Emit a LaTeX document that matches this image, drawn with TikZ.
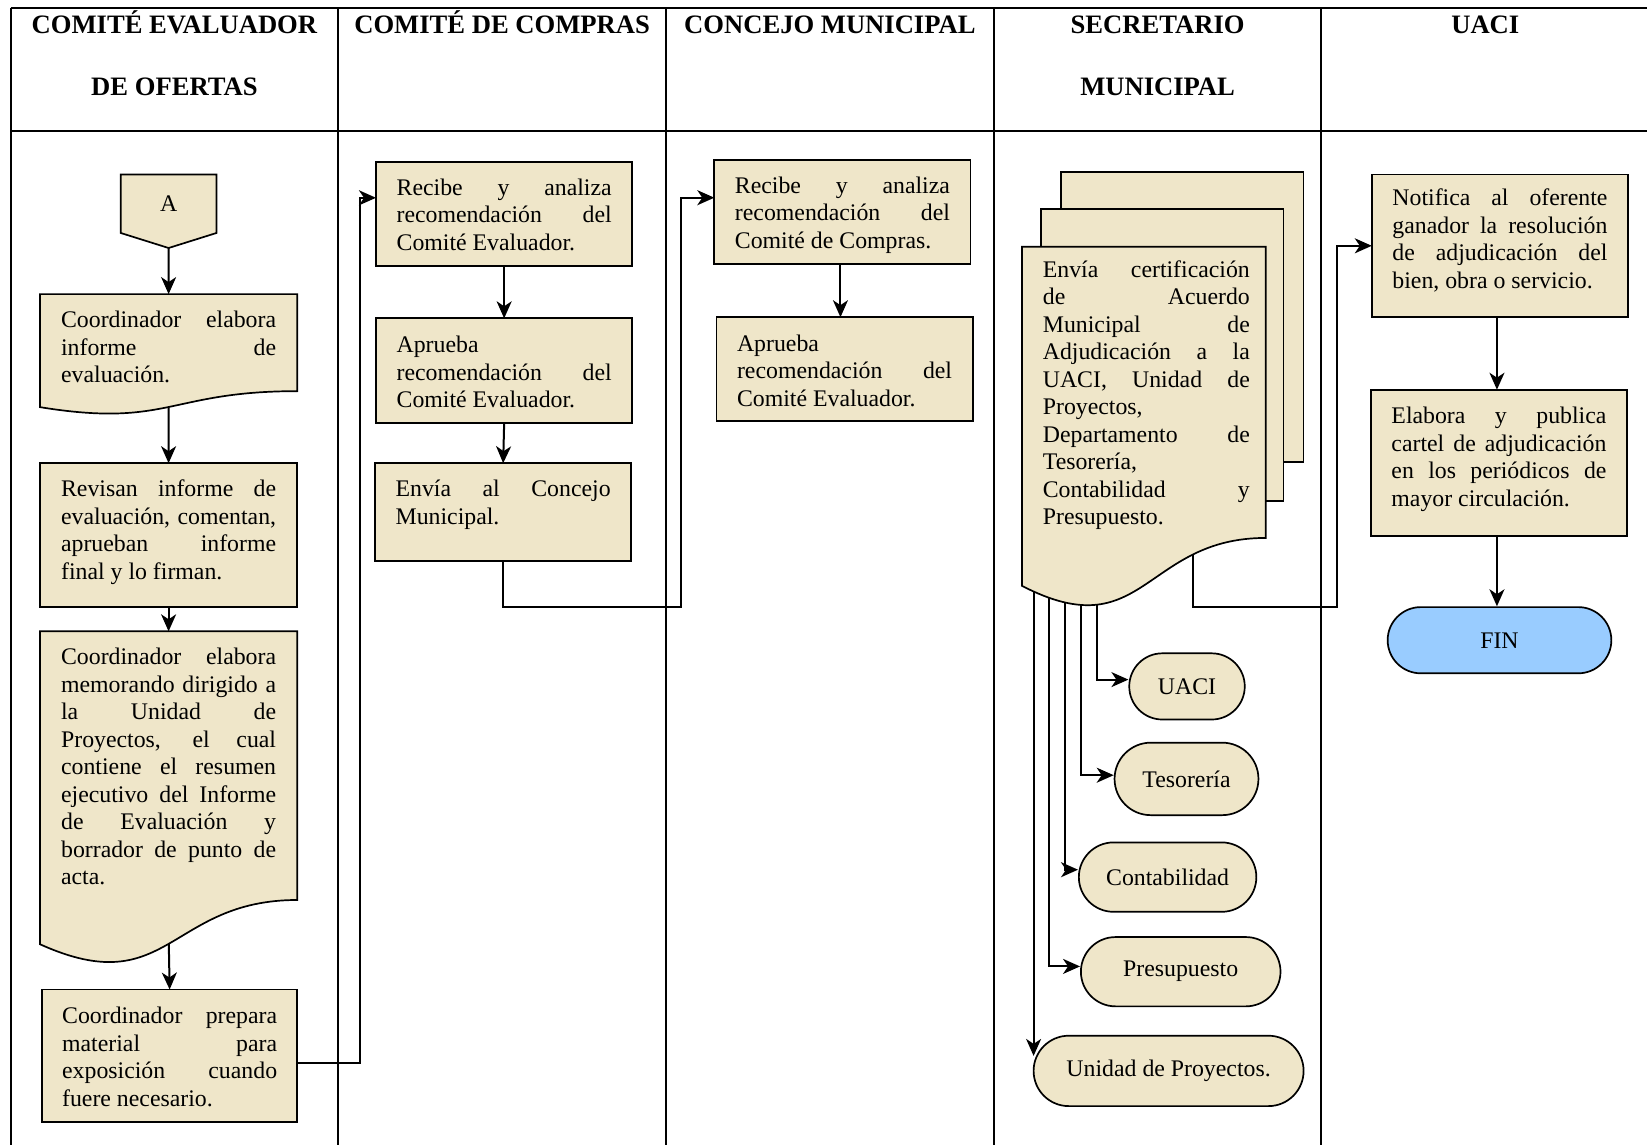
\documentclass[tikz,border=0pt]{standalone}
\usepackage{fontspec}
\setmainfont{Liberation Serif}
\usetikzlibrary{arrows.meta,shapes.misc,calc}

\definecolor{paper}{RGB}{239,230,201}
\definecolor{finblue}{RGB}{153,204,255}

\pgfdeclarelayer{lanes}
\pgfdeclarelayer{conn}
\pgfdeclarelayer{docs}
\pgfsetlayers{lanes,conn,docs,main}

\newcommand\bodyfont{\fontsize{23.8pt}{27.5pt}\selectfont}
\newcommand\headfont{\fontsize{26.6pt}{30pt}\selectfont\bfseries}
% one fully justified line
\newcommand\jl[1]{\makebox[\linewidth][s]{#1}\par}
% top-aligned text block: [width]{height}{top gap}{lines}
\newcommand\boxtext[4][215pt]{\parbox[c][#2][t]{#1}{\bodyfont\vspace*{#3}\strut#4}}
% rectangle step: name, x, top, width, height, top gap, text
\newcommand\procnode[7]{\node[proc, minimum width=#4pt] (#1) at (#2,#3) {\boxtext{#5pt}{#6pt}{#7}};}
% document step (outline drawn separately): same arguments
\newcommand\docitem[7]{\node[docnode, minimum width=#4pt] (#1) at (#2,#3) {\boxtext{#5pt}{#6pt}{#7}};}
% wavy-bottom document outline around a node
\newcommand\docpath[1]{%
  \path[docline] (#1.north west) -- (#1.north east)
    -- ($(#1.north east)!0.802!(#1.south east)$)
    .. controls ($(#1.north)!0.802!(#1.south)$) and ($(#1.north)!1.1075!(#1.south)$)
    .. ($(#1.north west)!0.934!(#1.south west)$) -- cycle;}

\tikzset{
  proc/.style={draw, line width=1.7pt, fill=paper, inner sep=0pt, outer sep=0pt, anchor=north west},
  docnode/.style={inner sep=0pt, outer sep=0pt, anchor=north west},
  docline/.style={draw, line width=1.7pt, fill=paper},
  pagebox/.style={draw, line width=1.7pt, fill=paper, inner sep=0pt, outer sep=0pt, anchor=north west},
  term/.style={rounded rectangle, draw, line width=1.7pt, fill=paper, inner sep=0pt, font=\bodyfont},
  lane/.style={line width=2pt},
  head/.style={anchor=base, font=\headfont},
  arr/.style={line width=2pt, -{Stealth[length=17pt,width=15pt,inset=5pt]}}
}

\begin{document}
\begin{tikzpicture}[x=1pt, y=-1pt]
\useasboundingbox (0,0) rectangle (1647,1144);

% ---- swimlanes ----
\begin{pgfonlayer}{lanes}
  \draw[lane] (10.5,8.4) -- (1660,8.4);
  \draw[lane] (10.5,131.3) -- (1660,131.3);
  \foreach \lx in {10.5,338.2,666,993.7,1321.4}
    \draw[lane] (\lx,8.4) -- (\lx,1160);
\end{pgfonlayer}

\node[head] (h1a) at (174.4,33) {COMITÉ EVALUADOR};
\node[head] (h1b) at (174.4,95) {DE OFERTAS};
\node[head] (h2) at (502.1,33) {COMITÉ DE COMPRAS};
\node[head] (h3) at (829.9,33) {CONCEJO MUNICIPAL};
\node[head] (h4a) at (1157.6,33) {SECRETARIO};
\node[head] (h4b) at (1157.6,95) {MUNICIPAL};
\node[head] (h5) at (1485.3,33) {UACI};

% ---- Comité Evaluador de Ofertas ----
\node[docnode, minimum width=95.6pt, minimum height=58.6pt] (A) at (120.8,174.4) {\bodyfont A};
\docitem{b1}{39.9}{294.1}{257.4}{121}{14.25}{\jl{Coordinador elabora}\jl{informe de}evaluación.}
\procnode{b2}{39.9}{463.2}{257.4}{143.9}{14.25}{\jl{Revisan informe de}\jl{evaluación, comentan,}\jl{aprueban informe}final y lo firman.}
\docitem{memo}{39.9}{631.3}{257.4}{335}{14.25}{\jl{Coordinador elabora}\jl{memorando dirigido a}\jl{la Unidad de}\jl{Proyectos, el cual}\jl{contiene el resumen}\jl{ejecutivo del Informe}\jl{de Evaluación y}\jl{borrador de punto de}acta.}
\procnode{b4}{42}{989.5}{255.3}{132.3}{15}{\jl{Coordinador prepara}\jl{material para}\jl{exposición cuando}fuere necesario.}

% ---- Comité de Compras ----
\procnode{r2}{376}{161.8}{256.3}{104}{14.25}{\jl{Recibe y analiza}\jl{recomendación del}Comité Evaluador.}
\procnode{a2}{376}{318.3}{256.3}{105}{15}{Aprueba\par\jl{recomendación del}Comité Evaluador.}
\procnode{e2}{375}{463.2}{256.3}{97.7}{14.25}{\jl{Envía al Concejo}Municipal.}

% ---- Concejo Municipal ----
\procnode{r3}{714.3}{159.7}{256.3}{104}{14.25}{\jl{Recibe y analiza}\jl{recomendación del}Comité de Compras.}
\procnode{a3}{716.4}{317.2}{256.3}{104}{15}{Aprueba\par\jl{recomendación del}Comité Evaluador.}

% ---- Secretario Municipal ----
\node[docnode, minimum width=243.7pt] (sd) at (1022,246.8) {\hspace*{5pt}\boxtext[207pt]{363pt}{11pt}{\jl{Envía certificación}\jl{de Acuerdo}\jl{Municipal de}\jl{Adjudicación a la}\jl{UACI, Unidad de}Proyectos,\par\jl{Departamento de}Tesorería,\par\jl{Contabilidad y}Presupuesto.}};

\node[term, minimum width=115.5pt, minimum height=66.2pt] (tu) at (1187,686.4) {UACI};
\node[term, minimum width=143.9pt, minimum height=72.5pt] (tt) at (1186.5,778.9) {Tesorería};
\node[term, minimum width=177.5pt, minimum height=69.4pt] (tc) at (1167.6,877.1) {Contabilidad};
\node[term, minimum width=199.6pt, minimum height=69.3pt] (tp) at (1180.7,971.7) {Presupuesto};
\node[term, minimum width=270pt, minimum height=70.4pt] (tup) at (1168.6,1070.9) {Unidad de Proyectos.};

% ---- UACI ----
\procnode{n5}{1371.8}{174.4}{256.3}{142.8}{12.3}{\jl{Notifica al oferente}\jl{ganador la resolución}\jl{de adjudicación del}bien, obra o servicio.}
\procnode{el5}{1370.8}{389.7}{256.3}{146}{15}{\jl{Elabora y publica}\jl{cartel de adjudicación}\jl{en los periódicos de}mayor circulación.}
\node[term, fill=finblue, minimum width=223.7pt, minimum height=66.2pt] (fin) at (1499.5,640.2) {FIN};

% ---- shaped outlines (below the texts) ----
\begin{pgfonlayer}{docs}
  \path[docline] (A.north west) -- (A.north east) -- (A.south east)
    -- ([yshift=-15pt]A.south) -- (A.south west) -- cycle;
  \docpath{b1}
  \docpath{memo}
  \node[pagebox, minimum width=242.7pt, minimum height=289.9pt] (pg1) at (1060.9,172.3) {};
  \node[pagebox, minimum width=242.6pt, minimum height=292pt] (pg2) at (1041,209) {};
  \docpath{sd}
\end{pgfonlayer}

% ---- connectors ----
\begin{pgfonlayer}{conn}
  \draw[arr] (A.south) -- (b1.north);
  \draw[arr] ($(b1.north)!0.9!(b1.south)$) -- (b2.north);
  \draw[arr] (b2.south) -- (memo.north);
  \draw[arr] ($(memo.north)!0.9!(memo.south)$) -- (b4.north);
  \draw[arr] ([yshift=-7pt]b4.east) -| ([xshift=-16pt,yshift=16pt]r2.west) -- ([yshift=16pt]r2.west);

  \draw[arr] (r2.south) -- (a2.north);
  \draw[arr] (a2.south) -- (e2.north);
  \draw[arr] (e2.south) -- ++(0,46) -| ([xshift=-33.6pt,yshift=14pt]r3.west) -- ([yshift=14pt]r3.west);

  \draw[arr] ([xshift=-2pt]r3.south) -- ([xshift=-2pt]r3.south |- a3.north);

  \draw[arr] ([xshift=49.5pt]sd.center) -- ++(0,178.8) -| ([xshift=-34.6pt]n5.west) -- (n5.west);
  \draw[arr] ([xshift=74.6pt]sd.west) |- ([yshift=6.8pt]tu.west);
  \draw[arr] ([xshift=58.9pt]sd.west) |- ([yshift=3.7pt]tt.west);
  \draw[arr] ([xshift=43.1pt]sd.west) |- ([yshift=7.4pt]tc.west);
  \draw[arr] ([xshift=27.4pt]sd.west) |- ([yshift=5.3pt]tp.west);
  \coordinate (sdx) at ([xshift=11.6pt]sd.west);
  \coordinate (upin) at ([yshift=15pt]tup.west);
  \draw[arr] (sdx) -- (sdx |- upin);

  \draw[arr] ([xshift=-3pt]n5.south) -- ([xshift=-3pt]n5.south |- el5.north);
  \draw[arr] ([xshift=-2pt]el5.south) -- ([xshift=-2pt]el5.south |- fin.north);
\end{pgfonlayer}
\end{tikzpicture}
\end{document}
